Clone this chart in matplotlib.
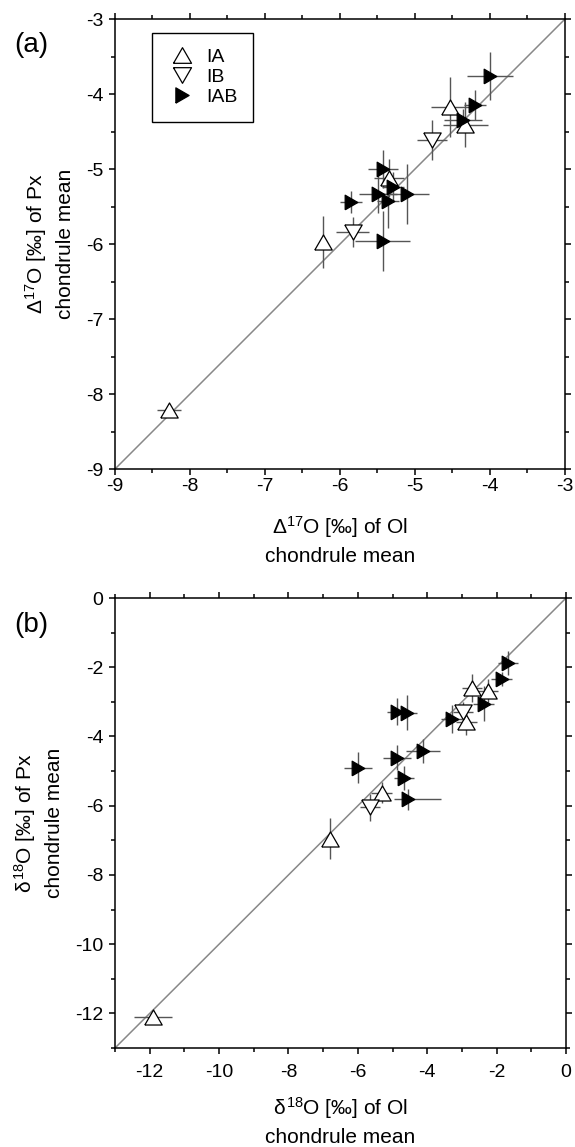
import matplotlib
matplotlib.use("Agg")
import matplotlib.pyplot as plt
from matplotlib.ticker import MultipleLocator
from matplotlib.lines import Line2D

plt.rcParams['font.family'] = ['Liberation Sans', 'DejaVu Sans']
plt.rcParams['mathtext.fontset'] = 'custom'
plt.rcParams['mathtext.rm'] = 'Liberation Sans'
plt.rcParams['mathtext.it'] = 'Liberation Sans'
plt.rcParams['axes.unicode_minus'] = False

# ---------------- Panel (a): Delta17O ----------------
a_IA_x = [-4.53, -4.33, -5.35, -6.23, -8.28]
a_IA_y = [-4.17, -4.41, -5.12, -5.97, -8.21]
a_IA_xe = [0.25, 0.30, 0.20, 0.05, 0.16]
a_IA_ye = [0.40, 0.30, 0.25, 0.35, 0.04]

a_IB_x = [-4.77, -5.83]
a_IB_y = [-4.61, -5.84]
a_IB_xe = [0.20, 0.22]
a_IB_ye = [0.27, 0.20]

a_IAB_x = [-4.00, -4.20, -4.36, -5.43, -5.29, -5.49, -5.11, -5.36, -5.85, -5.43]
a_IAB_y = [-3.76, -4.15, -4.35, -5.00, -5.24, -5.33, -5.33, -5.43, -5.44, -5.96]
a_IAB_xe = [0.31, 0.15, 0.25, 0.20, 0.15, 0.25, 0.30, 0.15, 0.15, 0.37]
a_IAB_ye = [0.32, 0.20, 0.15, 0.25, 0.20, 0.25, 0.40, 0.35, 0.15, 0.40]

# ---------------- Panel (b): delta18O ----------------
b_IA_x = [-2.71, -2.25, -2.88, -5.31, -6.80, -11.90]
b_IA_y = [-2.60, -2.68, -3.57, -5.62, -6.95, -12.10]
b_IA_xe = [0.30, 0.30, 0.30, 0.30, 0.10, 0.55]
b_IA_ye = [0.40, 0.35, 0.40, 0.30, 0.60, 0.10]

b_IB_x = [-2.97, -5.65]
b_IB_y = [-3.30, -6.05]
b_IB_xe = [0.30, 0.30]
b_IB_ye = [0.30, 0.40]

b_IAB_x = [-1.67, -1.85, -2.37, -3.29, -4.87, -4.59, -4.12, -4.87, -6.00, -4.67, -4.56]
b_IAB_y = [-1.87, -2.33, -3.05, -3.49, -3.28, -3.31, -4.41, -4.61, -4.90, -5.19, -5.82]
b_IAB_xlo = [0.30, 0.30, 0.30, 0.30, 0.30, 0.30, 0.50, 0.40, 0.40, 0.30, 0.40]
b_IAB_xhi = [0.30, 0.30, 0.30, 0.30, 0.30, 0.30, 0.50, 0.40, 0.40, 0.30, 0.95]
b_IAB_ye = [0.35, 0.20, 0.50, 0.40, 0.40, 0.50, 0.35, 0.35, 0.45, 0.35, 0.30]

# equilateral triangle marker shapes
TRI_UP = [(-1, -0.866), (1, -0.866), (0, 0.866), (-1, -0.866)]
TRI_DOWN = [(-1, 0.866), (1, 0.866), (0, -0.866), (-1, 0.866)]
TRI_RIGHT = [(-0.866, -1), (-0.866, 1), (0.866, 0), (-0.866, -1)]

fig = plt.figure(figsize=(5.75, 11.47), dpi=100)
axA = fig.add_axes([0.2, 0.5911, 0.7826, 0.3923])
axB = fig.add_axes([0.2, 0.0863, 0.7844, 0.3923])

ecol = '#555555'


def draw(ax, series, lim, major, minor, xpad):
    ax.plot(lim, lim, color='#888888', lw=1.1, zorder=1)
    for x, y, xe, ye, mk, fc, ms in series:
        ax.errorbar(x, y, xerr=xe, yerr=ye, fmt='none', ecolor=ecol,
                    elinewidth=1.0, capsize=0, zorder=2)
        ax.plot(x, y, linestyle='none', marker=mk, ms=ms, mfc=fc,
                mec='black', mew=0.9, zorder=3)
    ax.set_xlim(lim)
    ax.set_ylim(lim)
    for a in (ax.xaxis, ax.yaxis):
        a.set_major_locator(MultipleLocator(major))
        a.set_minor_locator(MultipleLocator(minor))
    ax.tick_params(which='both', direction='out', top=True, right=True,
                   labeltop=False, labelright=False, labelsize=14,
                   width=1.1)
    ax.tick_params(axis='x', pad=xpad)
    ax.tick_params(axis='y', pad=4)
    ax.tick_params(which='major', length=4.5)
    ax.tick_params(which='minor', length=3)
    for s in ax.spines.values():
        s.set_linewidth(1.1)


MS_OPEN = 12.5
MS_FILL = 10.5

draw(axA, [
    (a_IA_x, a_IA_y, a_IA_xe, a_IA_ye, TRI_UP, 'white', MS_OPEN),
    (a_IB_x, a_IB_y, a_IB_xe, a_IB_ye, TRI_DOWN, 'white', MS_OPEN),
    (a_IAB_x, a_IAB_y, a_IAB_xe, a_IAB_ye, TRI_RIGHT, 'black', MS_FILL),
], (-9, -3), 1, 0.5, 2)

draw(axB, [
    (b_IA_x, b_IA_y, b_IA_xe, b_IA_ye, TRI_UP, 'white', MS_OPEN),
    (b_IB_x, b_IB_y, b_IB_xe, b_IB_ye, TRI_DOWN, 'white', MS_OPEN),
    (b_IAB_x, b_IAB_y, [b_IAB_xlo, b_IAB_xhi], b_IAB_ye, TRI_RIGHT, 'black', MS_FILL),
], (-13, 0), 2, 1, 7)

lab_kw = dict(fontsize=15, linespacing=1.45)
axA.set_xlabel('$\\Delta^{17}$O [‰] of Ol\nchondrule mean', labelpad=14, **lab_kw)
axA.set_ylabel('$\\Delta^{17}$O [‰] of Px\nchondrule mean', labelpad=8, **lab_kw)
axB.set_xlabel('$\\delta^{18}$O [‰] of Ol\nchondrule mean', labelpad=10, **lab_kw)
axB.set_ylabel('$\\delta^{18}$O [‰] of Px\nchondrule mean', labelpad=8, **lab_kw)

fig.text(0.025, 0.961, '(a)', fontsize=20, va='center', ha='left')
fig.text(0.025, 0.455, '(b)', fontsize=20, va='center', ha='left')

handles = [
    Line2D([], [], ls='none', marker=TRI_UP, ms=13, mfc='white', mec='black', mew=0.9),
    Line2D([], [], ls='none', marker=TRI_DOWN, ms=13, mfc='white', mec='black', mew=0.9),
    Line2D([], [], ls='none', marker=TRI_RIGHT, ms=11, mfc='black', mec='black', mew=0.9),
]
leg = axA.legend(handles, ['IA', 'IB', 'IAB'], loc='upper left',
                 bbox_to_anchor=(0.082, 0.969), fontsize=14, frameon=True,
                 fancybox=False, edgecolor='black', framealpha=1,
                 handletextpad=0.5, labelspacing=0.12, borderpad=0.8,
                 handlelength=1.5, borderaxespad=0)
leg.get_frame().set_linewidth(1.0)

fig.savefig('out.png', dpi=100)
